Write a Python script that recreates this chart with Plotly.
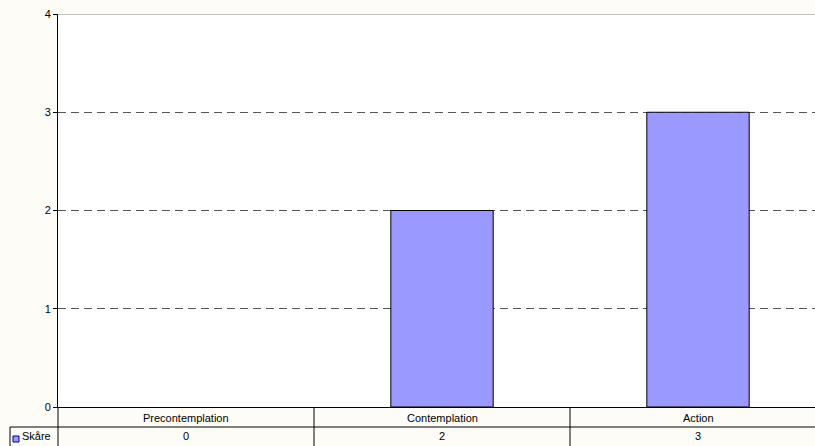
import plotly.graph_objects as go

categories = ["Precontemplation", "Contemplation", "Action"]
series_name = "Skåre"
values = [0, 2, 3]
y_ticks = [0, 1, 2, 3, 4]

W, H = 815, 446
L, R, T, B = 58, 0, 14, 39
plot_h = H - T - B
plot_w = W - L - R

def py(p):  # pixel y -> paper y
    return (H - B - p) / plot_h

def px(p):  # pixel x -> paper x
    return (p - L) / plot_w

FONT = "Liberation Sans, Arial, sans-serif"
BAR_FILL = "#9999FF"

fig = go.Figure()
fig.add_trace(go.Bar(
    x=list(range(len(categories))), y=values, name=series_name,
    marker=dict(color=BAR_FILL,
                line=dict(color="#000000", width=[0 if v == 0 else 1 for v in values])),
    width=0.4, showlegend=False, hoverinfo="skip",
))

# category width on screen = 256 px; right edge clipped by the image
cat_px = 256.0
x_right = -0.5 + plot_w / cat_px

shapes = []
# solid top line at max
shapes.append(dict(type="line", xref="paper", yref="y", x0=0, x1=1, y0=4, y1=4,
                   line=dict(color="#808080", width=1)))
# table horizontal line between the two rows
shapes.append(dict(type="line", xref="paper", yref="paper", x0=px(10), x1=1,
                   y0=py(427), y1=py(427), line=dict(color="#000000", width=1)))
# left border of series row
shapes.append(dict(type="line", xref="paper", yref="paper", x0=px(10), x1=px(10),
                   y0=py(427), y1=py(447), line=dict(color="#000000", width=1)))
# left edge continues into table
shapes.append(dict(type="line", xref="paper", yref="paper", x0=0, x1=0,
                   y0=0, y1=py(447), line=dict(color="#000000", width=1)))
# category dividers
for i in range(len(categories) - 1):
    shapes.append(dict(type="line", xref="x", yref="paper", x0=i + 0.5, x1=i + 0.5,
                       y0=0, y1=py(447), line=dict(color="#000000", width=1)))
# legend key
shapes.append(dict(type="rect", xref="paper", yref="paper", x0=px(13), x1=px(19),
                   y0=py(442), y1=py(436), fillcolor=BAR_FILL,
                   line=dict(color="#000080", width=1)))

annotations = []
for i, (c, v) in enumerate(zip(categories, values)):
    annotations.append(dict(x=i, xref="x", y=py(417.5), yref="paper", text=c,
                            showarrow=False, font=dict(size=11, color="#000000", family=FONT),
                            xanchor="center", yanchor="middle"))
    annotations.append(dict(x=i, xref="x", y=py(436.5), yref="paper", text=str(v),
                            showarrow=False, font=dict(size=11, color="#000000", family=FONT),
                            xanchor="center", yanchor="middle"))
annotations.append(dict(x=px(20), xref="paper", y=py(436.5), yref="paper", text=series_name,
                        showarrow=False, font=dict(size=11, color="#000000", family=FONT),
                        xanchor="left", yanchor="middle"))

fig.update_layout(
    width=W, height=H,
    margin=dict(l=L, r=R, t=T, b=B, pad=0),
    paper_bgcolor="#FDFCF7",
    plot_bgcolor="#FFFFFF",
    font=dict(family=FONT, size=11, color="#000000"),
    bargap=0.6,
    shapes=shapes,
    annotations=annotations,
    xaxis=dict(range=[-0.5, x_right], showticklabels=False, showgrid=False,
               zeroline=False, showline=True, linecolor="#000000", linewidth=1,
               ticks="", fixedrange=True, layer="above traces"),
    yaxis=dict(range=[0, 4], tickvals=y_ticks, ticks="outside", ticklen=4,
               tickcolor="#000000", showline=True, linecolor="#000000", linewidth=1,
               showgrid=True, gridcolor="#555555", gridwidth=1, griddash="8px,5px",
               zeroline=False, tickfont=dict(size=11, color="#000000", family=FONT),
               fixedrange=True),
)

fig.write_html("out.html", config={"displayModeBar": False},
               post_script="document.body.style.margin='0';document.body.style.overflow='hidden';")
